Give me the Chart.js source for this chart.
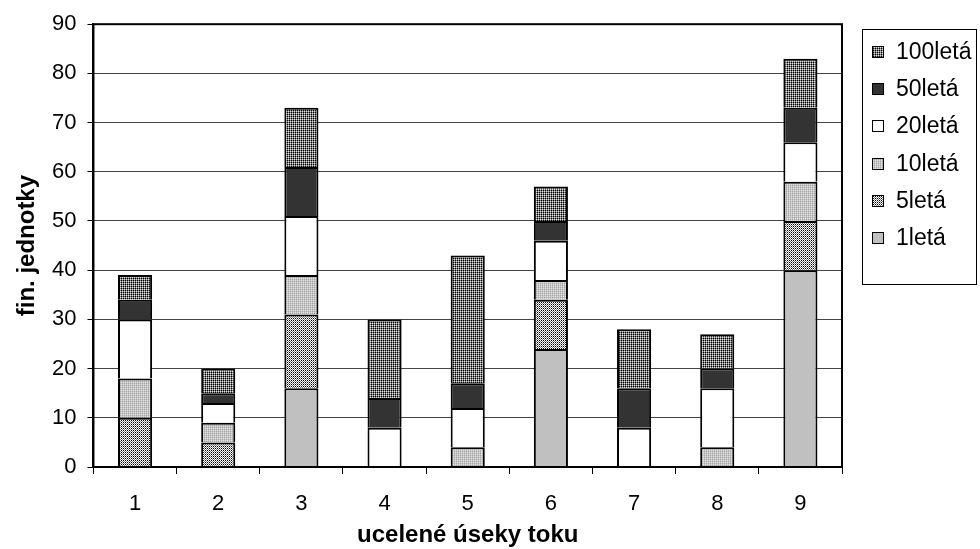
<!DOCTYPE html>
<html>
<head>
<meta charset="utf-8">
<script src="https://cdn.jsdelivr.net/npm/chart.js@4.4.1/dist/chart.umd.min.js"></script>
<style>
  body { margin: 0; background: #fff; }
  #wrap { width: 980px; height: 549px; position: relative; }
</style>
</head>
<body>
<div id="wrap"><canvas id="myChart" width="980" height="549"></canvas></div>
<script>
// data
let useky = ["1", "2", "3", "4", "5", "6", "7", "8", "9"];
let yTicks = [0, 10, 20, 30, 40, 50, 60, 70, 80, 90];
let seriesNames = ["1letá", "5letá", "10letá", "20letá", "50letá", "100letá"];

let leta1 = [0, 0, 16, 0, 0, 24, 0, 0, 40];
let leta5 = [10, 5, 15, 0, 0, 10, 0, 0, 10];
let leta10 = [8, 4, 8, 0, 4, 4, 0, 4, 8];
let leta20 = [12, 4, 12, 8, 8, 8, 8, 12, 8];
let leta50 = [4, 2, 10, 6, 5, 4, 8, 4, 7];
let leta100 = [5, 5, 12, 16, 26, 7, 12, 7, 10];

var FONT = "'Liberation Sans', Arial, sans-serif";

// small tiled fills like the old excel hatches
function makePattern(cells) {
    var c = document.createElement('canvas');
    c.width = 2;
    c.height = 2;
    var x = c.getContext('2d');
    for (let i = 0; i < 4; i++) {
        x.fillStyle = cells[i];
        x.fillRect(i % 2, Math.floor(i / 2), 1, 1);
    }
    return x.createPattern(c, 'repeat');
}

var fills = [
    '#c0c0c0',
    makePattern(['#ffffff', '#000000', '#808080', '#ffffff']),
    makePattern(['#c0c0c0', '#e0e0e0', '#a8a8a8', '#c8c8c8']),
    '#ffffff',
    '#333333',
    makePattern(['#808080', '#000000', '#e0e0e0', '#707070'])
];

var allData = [leta1, leta5, leta10, leta20, leta50, leta100];

// frame round the plot area
var frame = {
    id: 'frame',
    afterDatasetsDraw(chart) {
        var a = chart.chartArea;
        var ctx = chart.ctx;
        ctx.save();
        ctx.strokeStyle = '#000';
        ctx.lineWidth = 2;
        ctx.strokeRect(a.left, a.top, a.right - a.left, a.bottom - a.top);
        ctx.restore();
    }
};

// legend box on the right, top item = last series
var boxLegend = {
    id: 'boxLegend',
    afterDraw(chart) {
        var ctx = chart.ctx;
        ctx.save();
        ctx.strokeStyle = '#000';
        ctx.lineWidth = 1;
        ctx.strokeRect(862.5, 29.5, 114, 255);
        ctx.font = '23px ' + FONT;
        ctx.textBaseline = 'middle';
        var ds = chart.data.datasets;
        for (let i = 0; i < ds.length; i++) {
            let d = ds[ds.length - 1 - i];
            let cy = Math.round(52 + i * 37.2);
            ctx.fillStyle = d.backgroundColor;
            ctx.fillRect(872, cy - 6, 12, 12);
            ctx.strokeStyle = '#000';
            ctx.lineWidth = 1;
            ctx.strokeRect(872.5, cy - 5.5, 11, 11);
            ctx.fillStyle = '#000';
            ctx.fillText(d.label, 896, cy + 1);
        }
        ctx.restore();
    }
};

window.addEventListener('load', function () {
    var ctx = document.getElementById('myChart').getContext('2d');

    var datasets = [];
    for (let i = 0; i < seriesNames.length; i++) {
        datasets.push({
            label: seriesNames[i],
            data: allData[i],
            backgroundColor: fills[i],
            borderColor: '#000',
            borderWidth: 2,
            borderSkipped: 'bottom',
            categoryPercentage: 1,
            barPercentage: 0.41
        });
    }

    var chart = new Chart(ctx, {
        type: 'bar',
        data: { labels: useky, datasets: datasets },
        options: {
            responsive: false,
            animation: false,
            layout: { padding: { left: 6, right: 138, top: 23, bottom: 2 } },
            plugins: {
                legend: { display: false },
                tooltip: { enabled: false }
            },
            scales: {
                x: {
                    stacked: true,
                    border: { display: true, color: '#000', width: 2 },
                    grid: { drawOnChartArea: false, drawTicks: true, tickLength: 7, color: '#000', offset: true },
                    ticks: { color: '#000', font: { family: FONT, size: 22, lineHeight: 1 }, padding: 19 },
                    title: {
                        display: true,
                        text: 'ucelené úseky toku',
                        color: '#000',
                        font: { family: FONT, size: 24, weight: 'bold', lineHeight: 1 },
                        padding: { top: -11, bottom: 0 }
                    }
                },
                y: {
                    stacked: true,
                    min: 0,
                    max: 90,
                    afterBuildTicks: function (axis) {
                        axis.ticks = yTicks.map(v => ({ value: v }));
                    },
                    border: { display: true, color: '#000', width: 2 },
                    grid: { color: '#444', lineWidth: 1, tickLength: 6, tickColor: '#000' },
                    ticks: { color: '#000', font: { family: FONT, size: 22 }, padding: 11 },
                    title: {
                        display: true,
                        text: 'fin. jednotky',
                        color: '#000',
                        font: { family: FONT, size: 24, weight: 'bold', lineHeight: 1 },
                        padding: { top: 9, bottom: 2 }
                    }
                }
            }
        },
        plugins: [frame, boxLegend]
    });
});
</script>
</body>
</html>
